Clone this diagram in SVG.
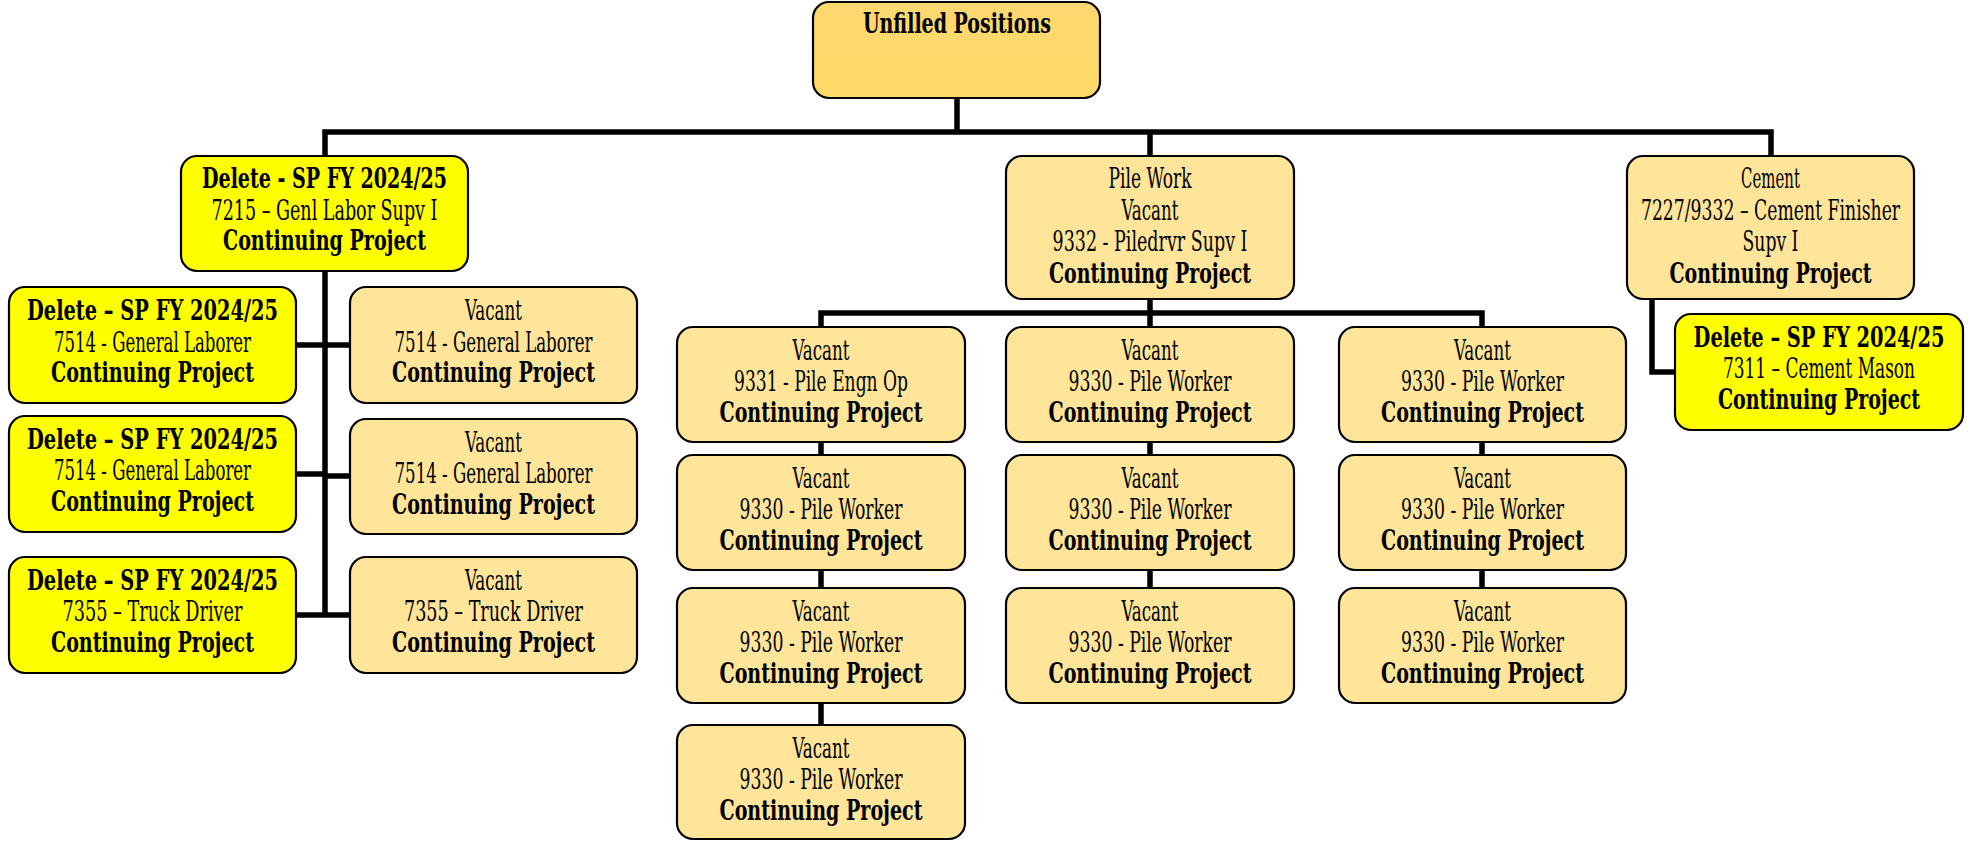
<svg xmlns="http://www.w3.org/2000/svg" width="1973" height="841" viewBox="0 0 1973 841">
<defs>
<style>
.box{stroke:#000;stroke-width:2.2}
.n{fill:#FFE599}
.y{fill:#FFFF00}
.r{fill:url(#rg)}
text{font-family:"DejaVu Serif Condensed","DejaVu Serif","Liberation Serif",serif;font-stretch:condensed;font-size:27px;text-anchor:middle;fill:#000}
.b{font-weight:bold}
.c{stroke:#000;stroke-width:5.5;fill:none;stroke-linecap:square}
</style>
<linearGradient id="rg" x1="0" y1="0" x2="0" y2="1">
<stop offset="0" stop-color="#FCD870"/>
<stop offset="1" stop-color="#FFD966"/>
</linearGradient>
</defs>
<rect width="1973" height="841" fill="#fff"/>
<g id="connectors">
<path class="c" d="M957 98V132M325 132H1771M325 132V156M1150 132V156M1771 132V156"/>
<path class="c" d="M325 271V615M296 345H350M296 474H325M325 476H350M296 615H350"/>
<path class="c" d="M1150 299V313M821 313H1482M821 313V725M1150 313V588M1482 313V588"/>
<path class="c" d="M1652 299V372H1675"/>
</g>
<g id="root">
<rect class="box r" x="813" y="2" width="287" height="96" rx="16"/>
<text class="b" x="957" y="33" textLength="188" lengthAdjust="spacingAndGlyphs">Unfilled Positions</text>
</g>
<g id="genl-labor-supv">
<rect class="box y" x="181" y="156" width="287" height="115" rx="16"/>
<text class="b" x="324.5" y="188" textLength="245" lengthAdjust="spacingAndGlyphs">Delete - SP FY 2024/25</text>
<text x="324.5" y="220" textLength="226" lengthAdjust="spacingAndGlyphs">7215 – Genl Labor Supv I</text>
<text class="b" x="324.5" y="250" textLength="203" lengthAdjust="spacingAndGlyphs">Continuing Project</text>
</g>
<g id="pile-work">
<rect class="box n" x="1006" y="156" width="288" height="143" rx="16"/>
<text x="1150" y="188" textLength="83" lengthAdjust="spacingAndGlyphs">Pile Work</text>
<text x="1150" y="220" textLength="57" lengthAdjust="spacingAndGlyphs">Vacant</text>
<text x="1150" y="251" textLength="195" lengthAdjust="spacingAndGlyphs">9332 - Piledrvr Supv I</text>
<text class="b" x="1150" y="283" textLength="202" lengthAdjust="spacingAndGlyphs">Continuing Project</text>
</g>
<g id="cement">
<rect class="box n" x="1627" y="156" width="287" height="143" rx="16"/>
<g transform="translate(1770.5 0) scale(0.6 1)">
<text x="0" y="188" textLength="98" lengthAdjust="spacingAndGlyphs">Cement</text>
<text x="0" y="220" textLength="432" lengthAdjust="spacingAndGlyphs">7227/9332 – Cement Finisher</text>
<text x="0" y="251" textLength="93" lengthAdjust="spacingAndGlyphs">Supv I</text>
<text class="b" x="0" y="283" textLength="337" lengthAdjust="spacingAndGlyphs">Continuing Project</text>
</g>
</g>
<g id="cement-mason">
<rect class="box y" x="1675" y="314" width="288" height="116" rx="16"/>
<g transform="translate(1819 0) scale(0.6 1)">
<text class="b" x="0" y="347" textLength="418" lengthAdjust="spacingAndGlyphs">Delete – SP FY 2024/25</text>
<text x="0" y="378" textLength="320" lengthAdjust="spacingAndGlyphs">7311 – Cement Mason</text>
<text class="b" x="0" y="409" textLength="337" lengthAdjust="spacingAndGlyphs">Continuing Project</text>
</g>
</g>
<g id="laborer-del-1">
<rect class="box y" x="9" y="287" width="287" height="116" rx="16"/>
<text class="b" x="152.5" y="320" textLength="251" lengthAdjust="spacingAndGlyphs">Delete – SP FY 2024/25</text>
<text x="152.5" y="352" textLength="197" lengthAdjust="spacingAndGlyphs">7514 - General Laborer</text>
<text class="b" x="152.5" y="382" textLength="203" lengthAdjust="spacingAndGlyphs">Continuing Project</text>
</g>
<g id="laborer-vac-1">
<rect class="box n" x="350" y="287" width="287" height="116" rx="16"/>
<text x="493.5" y="320" textLength="57" lengthAdjust="spacingAndGlyphs">Vacant</text>
<text x="493.5" y="352" textLength="198" lengthAdjust="spacingAndGlyphs">7514 - General Laborer</text>
<text class="b" x="493.5" y="382" textLength="203" lengthAdjust="spacingAndGlyphs">Continuing Project</text>
</g>
<g id="laborer-del-2">
<rect class="box y" x="9" y="416" width="287" height="116" rx="16"/>
<text class="b" x="152.5" y="449" textLength="251" lengthAdjust="spacingAndGlyphs">Delete – SP FY 2024/25</text>
<text x="152.5" y="480" textLength="197" lengthAdjust="spacingAndGlyphs">7514 - General Laborer</text>
<text class="b" x="152.5" y="511" textLength="203" lengthAdjust="spacingAndGlyphs">Continuing Project</text>
</g>
<g id="laborer-vac-2">
<rect class="box n" x="350" y="419" width="287" height="115" rx="16"/>
<text x="493.5" y="452" textLength="57" lengthAdjust="spacingAndGlyphs">Vacant</text>
<text x="493.5" y="483" textLength="198" lengthAdjust="spacingAndGlyphs">7514 - General Laborer</text>
<text class="b" x="493.5" y="514" textLength="203" lengthAdjust="spacingAndGlyphs">Continuing Project</text>
</g>
<g id="truck-del">
<rect class="box y" x="9" y="557" width="287" height="116" rx="16"/>
<text class="b" x="152.5" y="590" textLength="251" lengthAdjust="spacingAndGlyphs">Delete – SP FY 2024/25</text>
<text x="152.5" y="621" textLength="180" lengthAdjust="spacingAndGlyphs">7355 – Truck Driver</text>
<text class="b" x="152.5" y="652" textLength="203" lengthAdjust="spacingAndGlyphs">Continuing Project</text>
</g>
<g id="truck-vac">
<rect class="box n" x="350" y="557" width="287" height="116" rx="16"/>
<text x="493.5" y="590" textLength="57" lengthAdjust="spacingAndGlyphs">Vacant</text>
<text x="493.5" y="621" textLength="179" lengthAdjust="spacingAndGlyphs">7355 – Truck Driver</text>
<text class="b" x="493.5" y="652" textLength="203" lengthAdjust="spacingAndGlyphs">Continuing Project</text>
</g>
<g id="pile-c1-r1">
<rect class="box n" x="677" y="327" width="288" height="115" rx="16"/>
<text x="821" y="360" textLength="57" lengthAdjust="spacingAndGlyphs">Vacant</text>
<text x="821" y="391" textLength="174" lengthAdjust="spacingAndGlyphs">9331 - Pile Engn Op</text>
<text class="b" x="821" y="422" textLength="203" lengthAdjust="spacingAndGlyphs">Continuing Project</text>
</g>
<g id="pile-c1-r2">
<rect class="box n" x="677" y="455" width="288" height="115" rx="16"/>
<text x="821" y="488" textLength="57" lengthAdjust="spacingAndGlyphs">Vacant</text>
<text x="821" y="519" textLength="163" lengthAdjust="spacingAndGlyphs">9330 - Pile Worker</text>
<text class="b" x="821" y="550" textLength="203" lengthAdjust="spacingAndGlyphs">Continuing Project</text>
</g>
<g id="pile-c1-r3">
<rect class="box n" x="677" y="588" width="288" height="115" rx="16"/>
<text x="821" y="621" textLength="57" lengthAdjust="spacingAndGlyphs">Vacant</text>
<text x="821" y="652" textLength="163" lengthAdjust="spacingAndGlyphs">9330 - Pile Worker</text>
<text class="b" x="821" y="683" textLength="203" lengthAdjust="spacingAndGlyphs">Continuing Project</text>
</g>
<g id="pile-c1-r4">
<rect class="box n" x="677" y="725" width="288" height="114" rx="16"/>
<text x="821" y="758" textLength="57" lengthAdjust="spacingAndGlyphs">Vacant</text>
<text x="821" y="789" textLength="163" lengthAdjust="spacingAndGlyphs">9330 - Pile Worker</text>
<text class="b" x="821" y="820" textLength="203" lengthAdjust="spacingAndGlyphs">Continuing Project</text>
</g>
<g id="pile-c2-r1">
<rect class="box n" x="1006" y="327" width="288" height="115" rx="16"/>
<text x="1150" y="360" textLength="57" lengthAdjust="spacingAndGlyphs">Vacant</text>
<text x="1150" y="391" textLength="163" lengthAdjust="spacingAndGlyphs">9330 - Pile Worker</text>
<text class="b" x="1150" y="422" textLength="203" lengthAdjust="spacingAndGlyphs">Continuing Project</text>
</g>
<g id="pile-c2-r2">
<rect class="box n" x="1006" y="455" width="288" height="115" rx="16"/>
<text x="1150" y="488" textLength="57" lengthAdjust="spacingAndGlyphs">Vacant</text>
<text x="1150" y="519" textLength="163" lengthAdjust="spacingAndGlyphs">9330 - Pile Worker</text>
<text class="b" x="1150" y="550" textLength="203" lengthAdjust="spacingAndGlyphs">Continuing Project</text>
</g>
<g id="pile-c2-r3">
<rect class="box n" x="1006" y="588" width="288" height="115" rx="16"/>
<text x="1150" y="621" textLength="57" lengthAdjust="spacingAndGlyphs">Vacant</text>
<text x="1150" y="652" textLength="163" lengthAdjust="spacingAndGlyphs">9330 - Pile Worker</text>
<text class="b" x="1150" y="683" textLength="203" lengthAdjust="spacingAndGlyphs">Continuing Project</text>
</g>
<g id="pile-c3-r1">
<rect class="box n" x="1339" y="327" width="287" height="115" rx="16"/>
<text x="1482.5" y="360" textLength="57" lengthAdjust="spacingAndGlyphs">Vacant</text>
<text x="1482.5" y="391" textLength="163" lengthAdjust="spacingAndGlyphs">9330 - Pile Worker</text>
<text class="b" x="1482.5" y="422" textLength="203" lengthAdjust="spacingAndGlyphs">Continuing Project</text>
</g>
<g id="pile-c3-r2">
<rect class="box n" x="1339" y="455" width="287" height="115" rx="16"/>
<text x="1482.5" y="488" textLength="57" lengthAdjust="spacingAndGlyphs">Vacant</text>
<text x="1482.5" y="519" textLength="163" lengthAdjust="spacingAndGlyphs">9330 - Pile Worker</text>
<text class="b" x="1482.5" y="550" textLength="203" lengthAdjust="spacingAndGlyphs">Continuing Project</text>
</g>
<g id="pile-c3-r3">
<rect class="box n" x="1339" y="588" width="287" height="115" rx="16"/>
<text x="1482.5" y="621" textLength="57" lengthAdjust="spacingAndGlyphs">Vacant</text>
<text x="1482.5" y="652" textLength="163" lengthAdjust="spacingAndGlyphs">9330 - Pile Worker</text>
<text class="b" x="1482.5" y="683" textLength="203" lengthAdjust="spacingAndGlyphs">Continuing Project</text>
</g>
</svg>
